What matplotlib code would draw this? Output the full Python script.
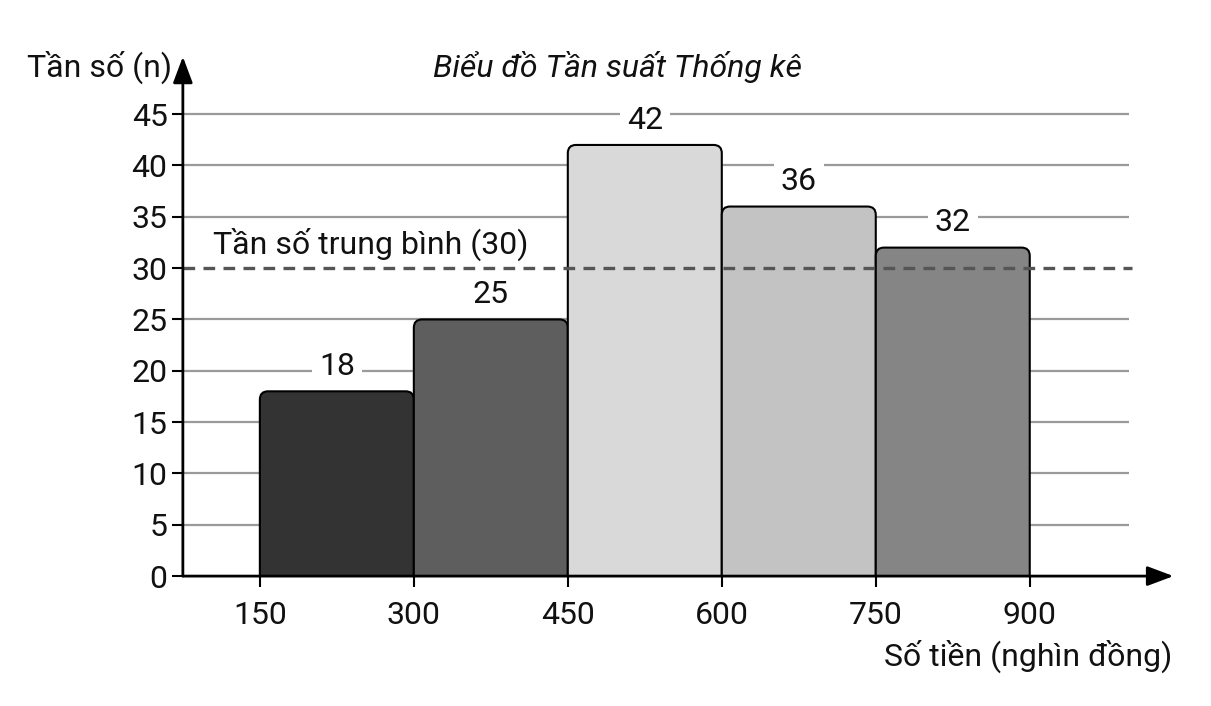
import matplotlib.pyplot as plt
from matplotlib.patches import FancyBboxPatch

plt.rcParams['font.family'] = ['Roboto', 'DejaVu Sans']

# bins (nghin dong) and counts
bin_edges = [150, 300, 450, 600, 750, 900]
counts = [18, 25, 42, 36, 32]
bar_colors = ['#333333', '#5e5e5e', '#d9d9d9', '#c3c3c3', '#858585']
y_ticks = [0, 5, 10, 15, 20, 25, 30, 35, 40, 45]
mean_value = 30

fs = 23

fig = plt.figure(figsize=(12.11, 7.06), dpi=100)
ax = fig.add_axes([0.151, 0.184, 0.818, 0.727])
ax.set_xlim(75, 1040)
ax.set_ylim(0, 50)
for s in ax.spines.values():
    s.set_visible(False)

# grid lines
ax.hlines([t for t in y_ticks if t not in (0, mean_value)], 75, 997,
          color='#9a9a9a', lw=1.6, zorder=1)
ax.hlines(mean_value, 75, 1000, color='#555555', lw=2.4,
          linestyles=(0, (3.5, 2.5)), zorder=3.5)

# bars with rounded top corners
for i, c in enumerate(counts):
    x0 = bin_edges[i]
    w = bin_edges[i + 1] - x0
    p = FancyBboxPatch((x0, -2), w, c + 2,
                       boxstyle='round,pad=0,rounding_size=8',
                       mutation_aspect=0.1, fc=bar_colors[i], ec='black',
                       lw=1.5, zorder=3)
    ax.add_patch(p)
    ax.text(x0 + w / 2, c + 2.4, str(c), ha='center', va='center',
            fontsize=fs, color='#111111', zorder=4,
            bbox=dict(fc='white', ec='none', pad=5))

ax.text(104, 32.3, 'Tần số trung bình (30)', ha='left', va='center',
        fontsize=fs, color='#111111', zorder=4)

# axes with arrows
arrow = dict(arrowstyle='-|>,head_length=1.6,head_width=0.6',
             color='black', lw=2, shrinkA=0, shrinkB=0)
ax.annotate('', xy=(1040, 0), xytext=(75, 0), arrowprops=arrow,
            annotation_clip=False, zorder=5)
ax.annotate('', xy=(75, 50.6), xytext=(75, 0), arrowprops=arrow,
            annotation_clip=False, zorder=5)

ax.set_yticks(y_ticks)
ax.set_xticks(bin_edges)
ax.tick_params(axis='both', length=8, width=1.5, color='black',
               labelsize=fs, labelcolor='#111111')
ax.tick_params(axis='x', pad=10)
ax.tick_params(axis='y', pad=3)

fig.text(0.142, 0.905, 'Tần số (n)', ha='right', va='center', fontsize=fs,
         color='#111111')
fig.text(0.51, 0.905, 'Biểu đồ Tần suất Thống kê', ha='center', va='center',
         fontsize=fs, style='italic', color='#111111')
fig.text(0.968, 0.07, 'Số tiền (nghìn đồng)', ha='right', va='center',
         fontsize=fs, color='#111111')

fig.savefig('out.png', dpi=100, facecolor='white')
